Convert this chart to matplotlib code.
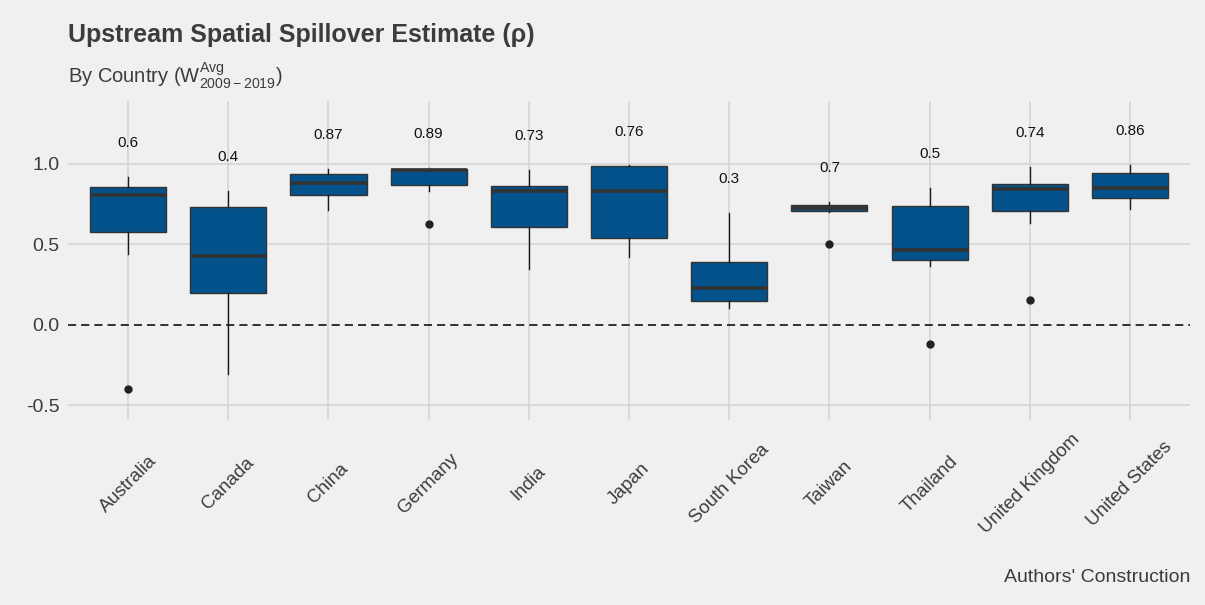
import matplotlib
matplotlib.use("Agg")
import matplotlib.pyplot as plt

plt.rcParams["font.family"] = ["Liberation Sans", "DejaVu Sans"]
plt.rcParams["mathtext.fontset"] = "custom"
plt.rcParams["mathtext.rm"] = "Liberation Sans"
plt.rcParams["mathtext.it"] = "Liberation Sans"

# Spatial spillover estimates (rho) summarised per country
countries = ["Australia", "Canada", "China", "Germany", "India", "Japan",
             "South Korea", "Taiwan", "Thailand", "United Kingdom", "United States"]
whisker_low = [0.439, -0.306, 0.712, 0.830, 0.348, 0.422, 0.108, 0.704, 0.366, 0.632, 0.719]
quartile_1 = [0.576, 0.199, 0.806, 0.870, 0.611, 0.538, 0.151, 0.706, 0.402, 0.706, 0.789]
median = [0.807, 0.427, 0.880, 0.963, 0.832, 0.832, 0.232, 0.728, 0.468, 0.843, 0.853]
quartile_3 = [0.855, 0.731, 0.936, 0.969, 0.863, 0.986, 0.393, 0.745, 0.737, 0.878, 0.942]
whisker_high = [0.921, 0.832, 0.967, 0.975, 0.963, 0.990, 0.694, 0.762, 0.849, 0.979, 0.992]
outliers = [[-0.40], [], [], [0.627], [], [], [], [0.501], [-0.118], [0.153], []]
mean_rho = [0.6, 0.4, 0.87, 0.89, 0.73, 0.76, 0.3, 0.7, 0.5, 0.74, 0.86]
y_ticks = [-0.5, 0.0, 0.5, 1.0]
y_tick_labels = ["-0.5", "0.0", "0.5", "1.0"]

BG = "#F0F0F0"
GRID = "#D2D2D2"
TEXT = "#3C3C3C"
FILL = "#03528C"
EDGE = "#333333"

fig = plt.figure(figsize=(12.05, 6.05), dpi=100, facecolor=BG)
ax = fig.add_axes([0.0564, 0.3058, 0.9312, 0.5272], facecolor=BG)

stats = []
for i, name in enumerate(countries):
    stats.append(dict(label=name, whislo=whisker_low[i], q1=quartile_1[i],
                      med=median[i], q3=quartile_3[i], whishi=whisker_high[i],
                      fliers=outliers[i]))

positions = list(range(len(countries)))

# grid first so boxes sit on top
for y in y_ticks:
    if y != 0:
        ax.axhline(y, color=GRID, lw=1.1, zorder=0)
for p in positions:
    ax.axvline(p, color=GRID, lw=1.1, zorder=0)
ax.axhline(0, color="#222222", lw=1.3, ls=(0, (4.5, 2.8)), zorder=1)

ax.bxp(stats, positions=positions, widths=0.76, patch_artist=True,
       showcaps=False,
       boxprops=dict(facecolor=FILL, edgecolor=EDGE, linewidth=1.0),
       medianprops=dict(color=EDGE, linewidth=2.6),
       whiskerprops=dict(color="#1a1a1a", linewidth=1.0),
       flierprops=dict(marker="o", markerfacecolor="#222222",
                       markeredgecolor="#222222", markersize=5),
       zorder=2)

for p, hi, m in zip(positions, whisker_high, mean_rho):
    ax.text(p, hi + 0.21, f"{m:g}", ha="center", va="center",
            fontsize=11, color="#111111")

ax.set_xlim(-0.6, 10.6)
ax.set_ylim(-0.59, 1.39)
ax.set_yticks(y_ticks)
ax.set_yticklabels(y_tick_labels)
ax.set_xticks(positions)
ax.set_xticklabels(countries, rotation=45, ha="center", va="center",
                   rotation_mode="default")
ax.tick_params(axis="x", length=0, pad=46, labelsize=13.5, labelcolor=TEXT)
ax.tick_params(axis="y", length=0, pad=6, labelsize=14, labelcolor=TEXT)
for s in ax.spines.values():
    s.set_visible(False)

fig.text(68 / 1205, 1 - 42 / 605, "Upstream Spatial Spillover Estimate (ρ)",
         fontsize=18, fontweight="bold", color=TEXT, ha="left", va="baseline")
fig.text(68 / 1205, 1 - 83 / 605,
         r"By Country ($\mathregular{W^{Avg}_{2009-2019}}$)",
         fontsize=14.5, color=TEXT, ha="left", va="baseline")
fig.text(1190 / 1205, 1 - 577 / 605, "Authors' Construction",
         fontsize=14, color=TEXT, ha="right", va="center")

fig.savefig("out.png", dpi=100, facecolor=BG)
